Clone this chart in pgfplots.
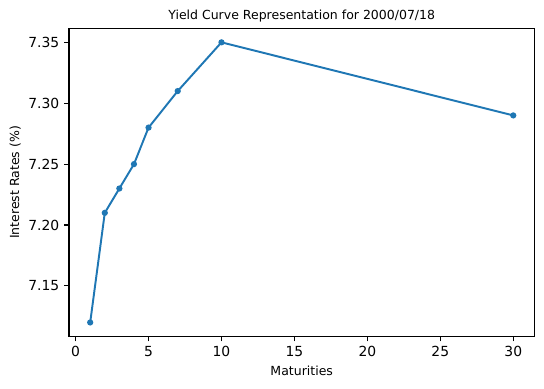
\documentclass[border=0pt]{standalone}
\usepackage{fontspec}
\setmainfont{DejaVu Sans}
\usepackage{pgfplots}
\pgfplotsset{compat=1.18}
\definecolor{mplblue}{HTML}{1F77B4}

\begin{document}
\begin{tikzpicture}
\begin{axis}[
  scale only axis,
  width=335pt, height=221.8pt,
  xmin=-0.45, xmax=31.45,
  ymin=7.1085, ymax=7.3615,
  xtick={0,5,10,15,20,25,30},
  ytick={7.15,7.20,7.25,7.30,7.35},
  yticklabel style={/pgf/number format/.cd,fixed,fixed zerofill,precision=2},
  /pgf/number format/assume math mode=true,
  tick label style={font=\fontsize{10}{12}\selectfont},
  tick align=outside, tick pos=left,
  major tick length=3.5pt,
  axis line style={line width=0.8pt},
  every tick/.style={black, line width=0.8pt},
  title={Yield Curve Representation for 2000/07/18},
  title style={font=\fontsize{9}{11}\selectfont, yshift=-5pt},
  xlabel={Maturities},
  ylabel={Interest Rates (\%)},
  label style={font=\fontsize{9}{11}\selectfont},
  xlabel style={yshift=0pt},
  ylabel style={yshift=-1.5pt},
]
\addplot[mplblue, line width=1.4pt, mark=*, mark size=1.5pt] coordinates {
  (1,7.12) (2,7.21) (3,7.23) (4,7.25) (5,7.28) (7,7.31) (10,7.35) (30,7.29)
};
\end{axis}
\useasboundingbox (-49.7pt,-37.4pt) rectangle (341.9pt,242.2pt);
\end{tikzpicture}
\end{document}
